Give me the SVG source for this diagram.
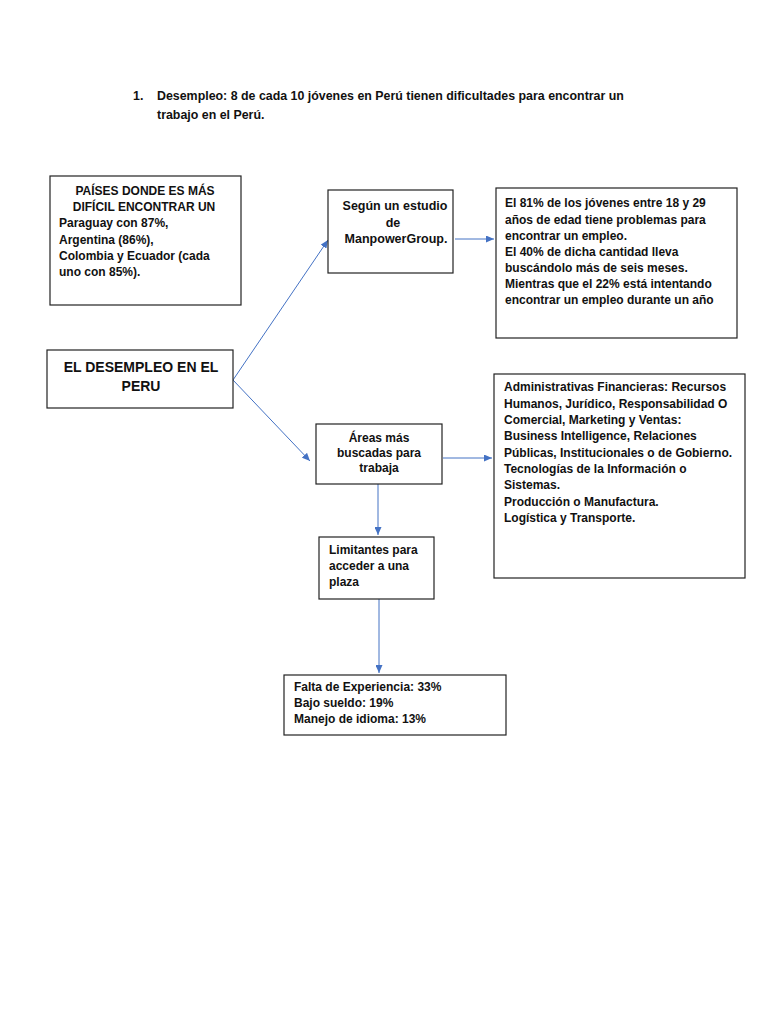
<svg xmlns="http://www.w3.org/2000/svg" width="768" height="1024" viewBox="0 0 768 1024">
<style>
  text { font-family: "Liberation Sans", Arial, sans-serif; font-weight: bold; font-size: 12px; fill: #111; }
  .box { fill: #fff; stroke: #222; stroke-width: 1.2; }
  .c { text-anchor: middle; }
  .main { font-size: 14px; }
  .conn { stroke: #4472C4; stroke-width: 1; fill: none; marker-end: url(#ah); }
</style>
<defs>
  <marker id="ah" markerUnits="userSpaceOnUse" markerWidth="9" markerHeight="7" refX="8" refY="3.5" orient="auto">
    <path d="M0,0 L8,3.5 L0,7 z" fill="#4472C4"/>
  </marker>
</defs>
<rect width="768" height="1024" fill="#fff"/>

<g id="header">
  <text x="133" y="100" style="font-size:12.4px">1.</text>
  <text x="157" y="100" style="font-size:12.4px">Desempleo: 8 de cada 10 jóvenes en Perú tienen dificultades para encontrar un</text>
  <text x="157" y="119" style="font-size:12.4px">trabajo en el Perú.</text>
</g>

<g id="connectors">
  <line class="conn" x1="233" y1="380" x2="328" y2="240"/>
  <line class="conn" x1="233" y1="380" x2="310" y2="461"/>
  <line class="conn" x1="455" y1="239" x2="494" y2="239"/>
  <line class="conn" x1="443" y1="458" x2="492" y2="458"/>
  <line class="conn" x1="378" y1="484" x2="378" y2="535"/>
  <line class="conn" x1="379" y1="599" x2="379" y2="673"/>
</g>

<g id="paises">
  <rect class="box" x="50" y="176" width="191" height="129"/>
  <text class="c" x="145" y="195">PAÍSES DONDE ES MÁS</text>
  <text class="c" x="144" y="211">DIFÍCIL ENCONTRAR UN</text>
  <text x="59" y="227">Paraguay con 87%,</text>
  <text x="59" y="244">Argentina (86%),</text>
  <text x="59" y="260">Colombia y Ecuador (cada</text>
  <text x="59" y="276">uno con 85%).</text>
</g>

<g id="desempleo">
  <rect class="box" x="47" y="350" width="186" height="58"/>
  <text class="c main" x="141" y="372">EL DESEMPLEO EN EL</text>
  <text class="c main" x="141" y="391">PERU</text>
</g>

<g id="segun">
  <rect class="box" x="328" y="190" width="125" height="83"/>
  <text class="c" x="395" y="210" style="font-size:12.5px">Según un estudio</text>
  <text class="c" x="393" y="227" style="font-size:12.5px">de</text>
  <text class="c" x="396" y="243" style="font-size:12.5px">ManpowerGroup.</text>
</g>

<g id="estudio">
  <rect class="box" x="496" y="188" width="241" height="150"/>
  <text x="505" y="207">El 81% de los jóvenes entre 18 y 29</text>
  <text x="505" y="224">años de edad tiene problemas para</text>
  <text x="505" y="240">encontrar un empleo.</text>
  <text x="505" y="256">El 40% de dicha cantidad lleva</text>
  <text x="505" y="272">buscándolo más de seis meses.</text>
  <text x="505" y="288">Mientras que el 22% está intentando</text>
  <text x="505" y="304">encontrar un empleo durante un año</text>
</g>

<g id="areas">
  <rect class="box" x="316" y="424" width="126" height="60"/>
  <text class="c" x="379" y="442">Áreas más</text>
  <text class="c" x="379" y="457">buscadas para</text>
  <text class="c" x="379" y="472">trabaja</text>
</g>

<g id="areas-lista">
  <rect class="box" x="494" y="374" width="251" height="204"/>
  <text x="504" y="391">Administrativas Financieras: Recursos</text>
  <text x="504" y="408">Humanos, Jurídico, Responsabilidad O</text>
  <text x="504" y="424">Comercial, Marketing y Ventas:</text>
  <text x="504" y="440">Business Intelligence, Relaciones</text>
  <text x="504" y="457">Públicas, Institucionales o de Gobierno.</text>
  <text x="504" y="473">Tecnologías de la Información o</text>
  <text x="504" y="489">Sistemas.</text>
  <text x="504" y="506">Producción o Manufactura.</text>
  <text x="504" y="522">Logística y Transporte.</text>
</g>

<g id="limitantes">
  <rect class="box" x="319" y="537" width="115" height="62"/>
  <text x="329" y="554">Limitantes para</text>
  <text x="329" y="570">acceder a una</text>
  <text x="329" y="586">plaza</text>
</g>

<g id="falta">
  <rect class="box" x="284" y="675" width="222" height="60"/>
  <text x="294" y="691">Falta de Experiencia: 33%</text>
  <text x="294" y="707">Bajo sueldo: 19%</text>
  <text x="294" y="723">Manejo de idioma: 13%</text>
</g>
</svg>
